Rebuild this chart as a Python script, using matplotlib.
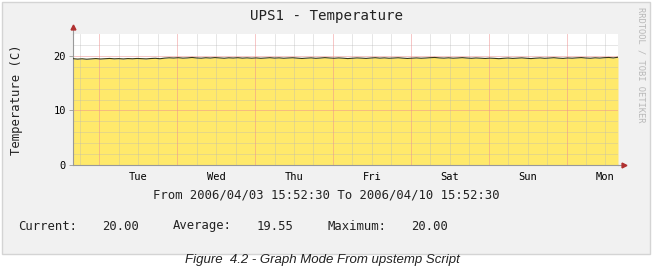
import numpy as np
import matplotlib.pyplot as plt
from matplotlib.patches import Rectangle

# --- datos ---
titulo = "UPS1 - Temperature"
etiqueta_y = "Temperature (C)"
dias = ["Tue", "Wed", "Thu", "Fri", "Sat", "Sun", "Mon"]
rango_texto = "From 2006/04/03 15:52:30 To 2006/04/10 15:52:30"
resumen = [("Current:", "20.00"), ("Average:", "19.55"), ("Maximum:", "20.00")]
horas_totales = 168.0
primera_medianoche = 8.125  # 15:52:30 -> 00:00
# temperatura leida aprox. cada 1.4 h
temperatura = [19.48, 19.40, 19.46, 19.38, 19.44, 19.50, 19.42, 19.47, 19.52, 19.45,
               19.49, 19.43, 19.50, 19.46, 19.52, 19.48, 19.44, 19.51, 19.55, 19.47,
               19.58, 19.64, 19.60, 19.66, 19.58, 19.62, 19.70, 19.61, 19.57, 19.65,
               19.60, 19.68, 19.62, 19.56, 19.64, 19.60, 19.66, 19.58, 19.63, 19.57,
               19.62, 19.55, 19.60, 19.66, 19.59, 19.63, 19.56, 19.61, 19.65, 19.58,
               19.52, 19.58, 19.63, 19.55, 19.60, 19.67, 19.61, 19.56, 19.62, 19.57,
               19.50, 19.56, 19.62, 19.58, 19.53, 19.60, 19.66, 19.58, 19.63, 19.56,
               19.60, 19.65, 19.58, 19.52, 19.57, 19.62, 19.56, 19.60, 19.66, 19.70,
               19.62, 19.58, 19.64, 19.57, 19.61, 19.67, 19.60, 19.55, 19.61, 19.57,
               19.52, 19.58, 19.54, 19.48, 19.55, 19.60, 19.53, 19.58, 19.63, 19.56,
               19.50, 19.57, 19.62, 19.55, 19.60, 19.66, 19.58, 19.53, 19.61, 19.57,
               19.63, 19.68, 19.60, 19.56, 19.64, 19.59, 19.66, 19.70, 19.62, 19.74]

horas = np.linspace(0, horas_totales, len(temperatura))

fig = plt.figure(figsize=(6.54, 2.67), dpi=100, facecolor='white')
W, H = 654.0, 267.0

# panel gris de fondo tipo rrdtool
fondo = Rectangle((2 / W, 1 - 254 / H), 648 / W, 252 / H, transform=fig.transFigure,
                  facecolor='#f1f1f1', edgecolor='#d4d4d4', lw=1.0, zorder=-10)
fig.patches.append(fondo)

ax = fig.add_axes([73 / W, 1 - 165 / H, 545 / W, 131 / H])
ax.set_zorder(1)
ax.set_facecolor('white')
ax.set_xlim(0, horas_totales)
ax.set_ylim(0, 24)

ax.fill_between(horas, 0, temperatura, color='#ffe96b', lw=0, zorder=1)
ax.plot(horas, temperatura, color='#3a3a1a', lw=0.8, zorder=3)

# rejilla
mayores_x = primera_medianoche + 24 * np.arange(0, 7)
menores_x = [x for x in np.arange(primera_medianoche - 6, horas_totales, 6)
             if min(abs(x - mayores_x)) > 0.1]
for x in menores_x:
    ax.axvline(x, color='#b8b8b8', lw=0.5, alpha=0.5, zorder=2)
for y in np.arange(2, 24, 2):
    if y not in (10, 20):
        ax.axhline(y, color='#b8b8b8', lw=0.5, alpha=0.5, zorder=2)
for x in mayores_x:
    ax.axvline(x, color='#ee9090', lw=0.6, alpha=0.6, zorder=2)
for y in [10, 20]:
    ax.axhline(y, color='#ee9090', lw=0.6, alpha=0.6, zorder=2)

for s in ['top', 'right']:
    ax.spines[s].set_visible(False)
ax.spines['left'].set_color('#999999')
ax.spines['bottom'].set_color('#999999')
ax.spines['left'].set_linewidth(0.8)
ax.spines['bottom'].set_linewidth(0.8)

ax.set_yticks([0, 10, 20])
ax.set_yticklabels(['0', '10', '20'], fontfamily='DejaVu Sans Mono', fontsize=7.5)
ax.tick_params(axis='y', length=3, width=0.6, color='#999999', pad=2)
ax.set_xticks(primera_medianoche + 12 + 24 * np.arange(7))
ax.set_xticklabels(dias, fontfamily='DejaVu Sans Mono', fontsize=7.5)
ax.tick_params(axis='x', length=0, pad=5)

# flechas de los ejes
ax.plot([0], [25.3], marker='^', color='#b03030', ms=3.5, clip_on=False, zorder=5)
ax.plot([0, 0], [24, 25], color='#999999', lw=0.8, clip_on=False)
ax.plot([horas_totales, horas_totales + 1.5], [0, 0], color='#999999', lw=0.8, clip_on=False)
ax.plot([horas_totales + 1.8], [0], marker='>', color='#b03030', ms=3.5, clip_on=False, zorder=5)

mono = 'DejaVu Sans Mono'
fig.text(327 / W, 1 - 16 / H, titulo, family=mono, fontsize=10.2, ha='center', va='center', color='#222222')
fig.text(17 / W, 1 - 100 / H, etiqueta_y, family=mono, fontsize=8.8, rotation=90,
         ha='center', va='center', color='#222222')
fig.text(326 / W, 1 - 195 / H, rango_texto, family=mono, fontsize=8.8, ha='center', va='center',
         color='#222222')
posiciones = [(18, 102), (173, 257), (328, 411)]
for (nombre, valor), (x1, x2) in zip(resumen, posiciones):
    fig.text(x1 / W, 1 - 226 / H, nombre, family=mono, fontsize=8.8, ha='left', va='center', color='#222222')
    fig.text(x2 / W, 1 - 226 / H, valor, family=mono, fontsize=8.8, ha='left', va='center', color='#222222')
fig.text(641 / W, 1 - 65 / H, "RRDTOOL / TOBI OETIKER", family=mono, fontsize=6.3, rotation=270,
         ha='center', va='center', color='#b8b8b8')

fig.text(322 / W, 1 - 266 / H, "Figure  4.2 - Graph Mode From upstemp Script", family='Liberation Sans',
         style='italic', fontsize=9.5, ha='center', va='bottom', color='#222222')

fig.savefig('out.png', dpi=100, facecolor='white')
